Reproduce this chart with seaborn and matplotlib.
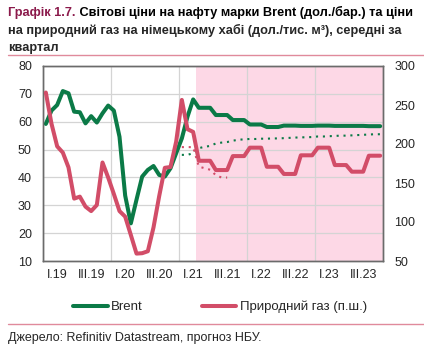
import numpy as np
import pandas as pd
import matplotlib
matplotlib.use("Agg")
import matplotlib.pyplot as plt
from matplotlib.lines import Line2D
import seaborn as sns

# ---------------- data ----------------
# monthly, Jan 2019 .. Dec 2023 (60 months)
brent = [59.2, 64.0, 66.0, 71.0, 70.2, 63.6, 63.4, 59.4, 62.0, 59.7, 63.0, 65.8,
         64.0, 54.6, 33.5, 23.5, 32.0, 40.3, 42.7, 44.1, 40.9, 40.3, 43.3, 48.7,
         54.0, 61.8, 68.0,
         65.0, 65.0, 65.0, 62.4, 62.4, 62.4, 60.6, 60.6, 60.6,
         59.0, 59.0, 59.0, 58.1, 58.1, 58.1, 58.6, 58.6, 58.6, 58.5, 58.5, 58.5,
         58.6, 58.6, 58.6, 58.5, 58.5, 58.5, 58.5, 58.5, 58.5, 58.4, 58.4, 58.4]
gas = [266.0, 226.0, 197.0, 189.0, 170.0, 130.0, 132.5, 119.7, 114.0, 121.8, 176.3, 157.0,
       136.0, 114.0, 106.9, 83.4, 59.5, 60.0, 62.5, 93.0, 133.0, 169.5, 170.5, 203.0,
       256.5, 219.0, 215.5,
       178.5, 178.5, 178.5, 166.6, 166.6, 166.6, 184.5, 184.5, 184.5,
       195.3, 195.3, 195.3, 170.8, 170.8, 170.8, 161.6, 161.6, 161.6, 185.5, 185.5, 185.5,
       195.3, 195.3, 195.3, 173.0, 173.0, 173.0, 164.5, 164.5, 164.5, 185.0, 185.0, 185.0]
# previous forecast (dotted), from Jan 2021
brent_prev = [48.1, 48.1, 48.7, 50.5, 51.0, 51.3, 52.2, 52.5, 52.7, 53.2, 53.5, 53.7,
              53.8, 53.8, 53.9, 53.9, 54.0, 54.0, 54.1, 54.2, 54.3, 54.4, 54.4, 54.5,
              54.7, 54.7, 54.8, 54.9, 55.0, 55.0, 55.1, 55.2, 55.3, 55.4, 55.5, 55.5]
gas_prev = [196.0, 196.0, 196.0, 171.0, 169.0, 167.0, 160.0, 157.0, 157.0]

tick_labels = ["I.19", "III.19", "I.20", "III.20", "I.21", "III.21",
               "I.22", "III.22", "I.23", "III.23"]
forecast_start = 27  # April 2021 (month index)
prev_start = 24      # January 2021

title1a = "Графік 1.7."
title1b = "Світові ціни на нафту марки Brent (дол./бар.) та ціни"
title2 = "на природний газ на німецькому хабі (дол./тис. м³), середні за"
title3 = "квартал"
source = "Джерело: Refinitiv Datastream, прогноз НБУ."

# ---------------- styling ----------------
sns.set_style("white")
plt.rcParams["font.family"] = ["Liberation Sans", "DejaVu Sans"]

GREEN = "#0b7a47"
RED = "#d24d68"
PINK = "#fdd8e6"
TITLE_RED = "#8b1a4b"
GRID = "#d4d4d4"

W, H = 424, 353
fig = plt.figure(figsize=(W / 100, H / 100), dpi=100)
ax = fig.add_axes([43 / W, 1 - 261 / H, 340 / W, 195 / H])
ax2 = ax.twinx()

n = len(brent)
df = pd.DataFrame({"x": np.arange(n) + 0.5, "brent": brent, "gas": gas})
dfp = pd.DataFrame({"x": np.arange(prev_start, prev_start + len(brent_prev)) + 0.5,
                    "v": brent_prev})
dfg = pd.DataFrame({"x": np.arange(prev_start, prev_start + len(gas_prev)) + 0.5,
                    "v": gas_prev})

ax.axvspan(forecast_start, n, color=PINK, lw=0, zorder=0.1)

dot = (0, (1, 2.3))
sns.lineplot(data=dfp, x="x", y="v", ax=ax, color=GREEN, lw=1.5, linestyle=dot,
             legend=False, zorder=3)
sns.lineplot(data=df, x="x", y="brent", ax=ax, color=GREEN, lw=2.9, legend=False,
             zorder=4)
sns.lineplot(data=dfg, x="x", y="v", ax=ax2, color=RED, lw=1.5, linestyle=dot,
             legend=False, zorder=3)
sns.lineplot(data=df, x="x", y="gas", ax=ax2, color=RED, lw=2.9, legend=False,
             zorder=4)

ax.set_xlim(0, n)
ax.set_ylim(10, 80)
ax2.set_ylim(50, 300)
ax.set_yticks(np.arange(10, 81, 10))
ax2.set_yticks(np.arange(50, 301, 50))
ax.set_xlabel("")
ax.set_ylabel("")
ax2.set_ylabel("")

ax.set_xticks(np.arange(0, n + 1, 12))
ax.set_xticklabels([])
ax.set_xticks(np.arange(len(tick_labels)) * 6 + 2.5, minor=True)
ax.set_xticklabels(tick_labels, minor=True)
ax.tick_params(axis="x", which="major", direction="in", length=3, color="#555555")
ax.tick_params(axis="x", which="minor", length=0, pad=6, labelsize=9)
ax.tick_params(axis="y", length=0, pad=8, labelsize=9)
ax2.tick_params(axis="y", length=0, pad=8, labelsize=9)

ax.set_axisbelow(True)
ax.grid(True, which="major", color=GRID, lw=0.9, zorder=0.5)
ax2.grid(False)
for a in (ax, ax2):
    for s in a.spines.values():
        s.set_color("#6b6b6b")
        s.set_linewidth(1.0)

# legend
h1 = Line2D([], [], color=GREEN, lw=2.9)
h2 = Line2D([], [], color=RED, lw=2.9)
fig.legend([h1, h2], ["Brent", "Природний газ (п.ш.)"], ncol=2, frameon=False,
           loc="center", bbox_to_anchor=(220 / W, 1 - 307 / H), fontsize=9.5,
           handlelength=2.6, handletextpad=0.25, columnspacing=4.5)

# titles
TFS = 9.15
t1 = fig.text(8 / W, 1 - 12.5 / H, title1a, color=TITLE_RED, fontsize=TFS,
              fontweight="bold", va="center", ha="left")
ax.annotate(" " + title1b, xy=(1, 0.5), xycoords=t1, va="center", ha="left",
            fontsize=TFS, fontweight="bold", color="black", annotation_clip=False)
fig.text(8 / W, 1 - 30.5 / H, title2, fontsize=TFS, fontweight="bold", va="center",
         ha="left")
fig.text(8 / W, 1 - 47.5 / H, title3, fontsize=TFS, fontweight="bold", va="center",
         ha="left")
fig.add_artist(Line2D([8 / W, 1.0], [1 - 55 / H, 1 - 55 / H], color="#e08a9c", lw=1.0))
fig.add_artist(Line2D([8 / W, 1.0], [1 - 324 / H, 1 - 324 / H], color="#e08a9c", lw=1.0))
fig.text(8 / W, 1 - 338 / H, source, fontsize=9, va="center", ha="left")

fig.savefig("out.png", dpi=100)
